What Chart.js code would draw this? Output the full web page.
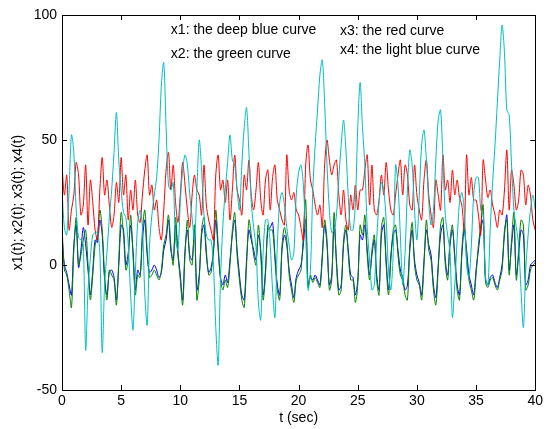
<!DOCTYPE html>
<html>
<head>
<meta charset="utf-8">
<script src="https://cdn.jsdelivr.net/npm/chart.js@4.4.1/dist/chart.umd.min.js"></script>
<style>
  html, body { margin: 0; padding: 0; background: #fff; }
</style>
</head>
<body>
<canvas id="chart" width="546" height="429"></canvas>
<script>
// sample spacing of the curves (sec)
const tStep = 0.2;

// x1: deep blue
const x1 = [
  12, 0, -3, -8, -12, 8, 16, -1, 6, 15,
  8, -2, -12, -2, 10, 9, 18, 12, -6, -12,
  -3, -2, -5, -14, 0, 16, 14, 0, 5, 16,
  6, -10, -2, -4, 10, 18, 4, -3, -2, 0,
  -2, -5, -3, 6, 10, 18, 6, 2, 16, 5,
  -4, -14, 6, 14, 4, 2, 14, -10, -4, 12,
  16, 4, -3, -1, 5, 18, 6, -5, -8, -4,
  -7, 2, 12, 18, 6, -4, -12, -14, 2, 14,
  10, 6, 2, 12, 6, -12, -2, 14, 15, 17,
  4, -8, -12, 6, 12, 8, -2, -8, -13, -5,
  -2, 0, 8, 18, -8, -5, -6, -4, -6, -8,
  4, 16, 8, -8, -4, 16, 2, -10, -8, 8,
  14, 6, -4, -5, -12, -6, 12, 10, 16, 6,
  -4, 4, 10, -4, -10, 12, 16, 2, -10, 4,
  12, 14, 6, -2, -5, -10, -8, 6, 14, 2,
  -4, -7, -12, 2, 14, 8, 4, -8, -13, 0,
  12, 16, 2, -4, 8, 14, 4, -8, -12, 4,
  14, 6, -4, -8, -12, -2, 6, 14, 18, -6,
  -8, -5, -4, -7, -9, -5, 0, 12, 20, -2,
  8, 16, -4, 4, 14, 12, -8, -6, 0, 1,
  2
];

// x2: green
const x2 = [
  16, -2, -4, -10, -17, 6, 19, 0, 4, 10,
  14, 0, -14, -4, 8, 12, 22, 14, -4, -14,
  -2, -4, -6, -16, 2, 21, 12, -2, 2, 20,
  4, -12, -4, -5, 14, 22, 6, -5, -4, -2,
  -4, -6, -2, 8, 12, 20, 8, 0, 19, 4,
  -6, -16, 4, 18, 2, 0, 16, -14, -6, 14,
  19, 6, -4, -3, 6, 22, 8, -6, -10, -6,
  -9, 0, 14, 21, 4, -6, -14, -17, 0, 18,
  12, 4, 0, 16, 4, -14, -4, 16, 14, 14,
  2, -10, -14, 8, 15, 10, -4, -10, -15, -6,
  -4, -2, 12, 26, -9, -4, -7, -5, -7, -9,
  2, 18, 10, -10, -6, 21, 0, -12, -10, 10,
  16, 4, -6, -6, -15, -8, 16, 12, 20, 4,
  -6, 6, 12, -6, -12, 15, 19, 0, -12, 2,
  14, 16, 4, -4, -6, -12, -14, 8, 17, 0,
  -6, -8, -14, 0, 18, 6, 2, -10, -16, -2,
  16, 19, 0, -6, 10, 16, 2, -10, -14, 6,
  16, 4, -6, -10, -14, -4, 8, 16, 24, -7,
  -9, -6, -5, -8, -10, -6, -2, 14, 18, -4,
  10, 21, -6, 6, 18, 16, -10, -8, -2, 0,
  1
];

// x3: red
const x3 = [
  40, 28, 36, 14, 22, 28, 41, 36, 20, 24,
  40, 16, 34, 25, 14, 10, 30, 43, 28, 34,
  24, 15, 20, 33, 25, 43, 28, 36, 18, 30,
  22, 34, 20, 17, 28, 38, 44, 28, 32, 22,
  26, 15, 10, 22, 38, 45, 30, 40, 25, 17,
  28, 41, 32, 22, 15, 28, 36, 30, 28, 20,
  40, 24, 18, 14, 10, 36, 44, 30, 34, 25,
  34, 18, 30, 44, 30, 26, 20, 36, 30, 42,
  28, 22, 30, 41, 26, 20, 34, 38, 22, 35,
  40, 26, 22, 18, 16, 44, 30, 26, 29, 22,
  20, 15, 10, 40, 48, 34, 30, 24, 20, 24,
  15, 40, 50, 42, 36, 40, 42, 28, 20, 30,
  18, 14, 28, 22, 32, 22, 30, 30, 38, 44,
  24, 40, 22, 20, 26, 36, 28, 41, 30, 22,
  20, 28, 36, 42, 28, 40, 36, 24, 22, 40,
  28, 22, 18, 34, 42, 28, 20, 15, 34, 28,
  22, 44, 30, 34, 25, 38, 28, 34, 27, 24,
  14, 44, 28, 35, 26, 26, 20, 12, 42, 34,
  27, 30, 24, 20, 15, 22, 20, 30, 46, 22,
  38, 32, 22, 26, 38, 36, 24, 32, 28, 18,
  14
];

// x4: light blue
const x4 = [
  30, 15, 12, 30, 52, 45, 22, 11, 10, 8,
  -34, -10, 3, 12, 13, 13, 5, -35, -8, 5,
  19, 30, 45, 61, 42, 30, 21, 19, 8, -12,
  -26, -3, 17, 22, 15, -12, -24, 8, 20, 28,
  35, 50, 72, 81, 55, 32, 30, 33, 10, 6,
  25, 38, 44, 40, 28, 19, 10, 30, 50, 38,
  20, 12, 10, 10, 0, -25, -40, -5, 16, 30,
  41, 52, 42, 40, 30, 22, 40, 55, 63, 45,
  25, 15, 7, -15, -22, 5, 18, 18, 8, -10,
  -21, 8, 25, 29, 24, 15, 8, 2, 5, 28,
  37, 40, 32, 12, -10, -2, 30, 48, 62, 76,
  82, 65, 40, 22, 13, 14, 20, 35, 48, 58,
  46, 27, 14, 14, 25, 55, 73, 55, 40, 15,
  2, -10, -8, 10, 25, 33, 30, 18, -2, -10,
  5, 40, 32, 12, -8, 5, 30, 46, 40, 22,
  10, 28, 48, 54, 42, 25, 16, 22, 42, 58,
  62, 42, 20, 12, 5, -21, -8, 10, 25, 29,
  22, 0, -5, 8, 28, 35, 35, 22, 20, -5,
  -8, 15, 33, 48, 65, 82, 96, 85, 62, 60,
  40, 22, 15, 8, -10, -25, -2, 12, 22, 28,
  22
];

const xTicks = [0, 5, 10, 15, 20, 25, 30, 35, 40];
const yTicks = [-50, 0, 50, 100];

// text labels inside the axes, placed in data units like MATLAB text()
const notes = [
  { text: 'x1: the deep blue curve', t: 9.2, v: 94 },
  { text: 'x2: the green curve', t: 9.2, v: 84.4 },
  { text: 'x3: the red curve', t: 23.5, v: 93.6 },
  { text: 'x4: the light blue curve', t: 23.5, v: 86 },
];

const FONT = "'Liberation Sans', Arial, sans-serif";

const pts = arr => arr.map((v, i) => ({ x: i * tStep, y: v }));

const makeSet = (label, data, color, order) => ({
  label,
  data: pts(data),
  borderColor: color,
  borderWidth: 1,
  pointRadius: 0,
  tension: 0.3,
  fill: false,
  order,
});

// MATLAB style box with inward ticks, plus the text notes
const boxTicks = {
  id: 'boxTicks',
  afterDatasetsDraw(chart) {
    const { ctx, chartArea: a, scales: { x, y } } = chart;
    ctx.save();
    ctx.strokeStyle = '#000';
    ctx.lineWidth = 1;
    ctx.beginPath();
    xTicks.forEach(v => {
      const px = Math.round(x.getPixelForValue(v)) + 0.5;
      ctx.moveTo(px, a.bottom);
      ctx.lineTo(px, a.bottom - 5);
      ctx.moveTo(px, a.top);
      ctx.lineTo(px, a.top + 5);
    });
    yTicks.forEach(v => {
      const py = Math.round(y.getPixelForValue(v)) + 0.5;
      ctx.moveTo(a.left, py);
      ctx.lineTo(a.left + 5, py);
      ctx.moveTo(a.right, py);
      ctx.lineTo(a.right - 5, py);
    });
    ctx.stroke();
    ctx.strokeRect(Math.round(a.left) + 0.5, Math.round(a.top) + 0.5,
      Math.round(a.right - a.left), Math.round(a.bottom - a.top));

    ctx.fillStyle = '#000';
    ctx.font = '14px ' + FONT;
    ctx.textAlign = 'left';
    ctx.textBaseline = 'middle';
    notes.forEach(n => {
      ctx.fillText(n.text, x.getPixelForValue(n.t), y.getPixelForValue(n.v));
    });
    ctx.restore();
  }
};

new Chart(document.getElementById('chart'), {
  type: 'line',
  data: {
    datasets: [
      makeSet('x1', x1, '#0000ff', 4),
      makeSet('x2', x2, '#008000', 3),
      makeSet('x3', x3, '#ff0000', 2),
      makeSet('x4', x4, '#00bfbf', 1),
    ],
  },
  options: {
    responsive: false,
    animation: false,
    devicePixelRatio: 1,
    layout: { padding: { top: 15, right: 8, left: 0, bottom: 0 } },
    plugins: {
      legend: { display: false },
      tooltip: { enabled: false },
    },
    scales: {
      x: {
        type: 'linear',
        min: 0,
        max: 40,
        afterBuildTicks: s => { s.ticks = xTicks.map(v => ({ value: v })); },
        afterFit: s => { s.height = 39; },
        ticks: { color: '#000', font: { family: FONT, size: 14 }, padding: 3, maxRotation: 0 },
        grid: { display: false, drawTicks: false },
        border: { display: false },
        title: {
          display: true,
          text: 't (sec)',
          color: '#000',
          font: { family: FONT, size: 14 },
          padding: { top: 0, bottom: 2 },
        },
      },
      y: {
        min: -50,
        max: 100,
        afterBuildTicks: s => { s.ticks = yTicks.map(v => ({ value: v })); },
        afterFit: s => { s.width = 62; },
        ticks: { color: '#000', font: { family: FONT, size: 14 }, padding: 5 },
        grid: { display: false, drawTicks: false },
        border: { display: false },
        title: {
          display: true,
          text: 'x1(t); x2(t); x3(t); x4(t)',
          color: '#000',
          font: { family: FONT, size: 14 },
          padding: { top: 10, bottom: 0 },
        },
      },
    },
  },
  plugins: [boxTicks],
});
</script>
</body>
</html>
